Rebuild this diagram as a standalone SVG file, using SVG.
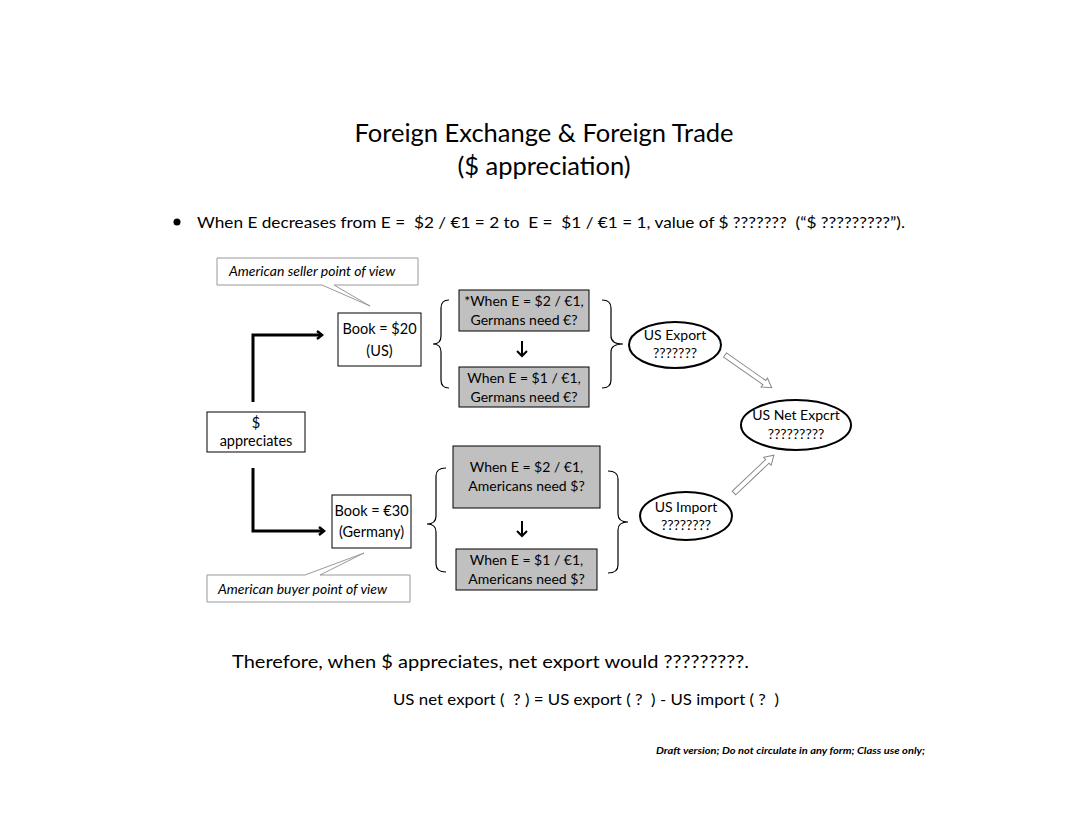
<svg xmlns="http://www.w3.org/2000/svg" width="1086" height="828" viewBox="0 0 1086 828">
<style>
text{font-family:Lato,"Open Sans","DejaVu Sans",sans-serif;fill:#000;white-space:pre}
.t{font-size:25.5px}
.b{font-size:16px}
.n{font-size:14.5px}
.s{font-size:14px}
.it{font-size:14px;font-style:italic}
.box{fill:#fff;stroke:#000;stroke-width:1}
.gray{fill:#c0c0c0;stroke:#000;stroke-width:1}
.call{fill:#fff;stroke:#999;stroke-width:1}
.el{fill:#fff;stroke:#000;stroke-width:2}
.brace{fill:none;stroke:#000;stroke-width:1.2}
.thick{fill:none;stroke:#000;stroke-width:3}
.hollow{fill:#fff;stroke:#888;stroke-width:1}
.down{fill:none;stroke:#000;stroke-width:2}
</style>
<defs>
<marker id="ah" markerWidth="8" markerHeight="10" refX="6" refY="5" orient="auto" markerUnits="userSpaceOnUse">
<path d="M1,1 L6,5 L1,9" fill="none" stroke="#000" stroke-width="2.5"/>
</marker>
</defs>
<rect width="1086" height="828" fill="#fff"/>

<g id="title">
<text class="t" x="544" y="142" text-anchor="middle">Foreign Exchange &amp; Foreign Trade</text>
<text class="t" x="544" y="175" text-anchor="middle">($ appreciation)</text>
</g>

<g id="bullet">
<circle cx="177" cy="222" r="3.5" fill="#000"/>
<text class="b" x="197" y="228" textLength="708" lengthAdjust="spacingAndGlyphs" xml:space="preserve">When E decreases from E =  $2 / €1 = 2 to  E =  $1 / €1 = 1, value of $ ???????  (“$ ?????????”).</text>
</g>

<g id="connectors">
<polyline class="thick" points="253,402 253,335 322,335" marker-end="url(#ah)"/>
<polyline class="thick" points="253,468 253,531 324,531" marker-end="url(#ah)"/>
<path class="down" d="M522,341 L522,356 M517,351 L522,356 L527,351"/>
<path class="down" d="M522,521 L522,536 M517,531 L522,536 L527,531"/>
<path class="brace" d="M449,300 Q441,300 441,308 L441,336 Q441,344 433,344 Q441,344 441,352 L441,380 Q441,388 449,388"/>
<path class="brace" d="M602,300 Q611,300 611,308 L611,336 Q611,344 623,344 Q611,344 611,352 L611,380 Q611,388 602,388"/>
<path class="brace" d="M446,468 Q436,468 436,476 L436,516 Q436,524 427,524 Q436,524 436,532 L436,564 Q436,572 446,572"/>
<path class="brace" d="M608,471 Q618,471 618,479 L618,514 Q618,522 628,522 Q618,522 618,530 L618,565 Q618,573 608,573"/>
<polygon class="hollow" transform="translate(725,355) rotate(35)" points="0,-2.5 48,-2.5 48,-5.5 57,0 48,5.5 48,2.5 0,2.5"/>
<polygon class="hollow" transform="translate(734,493) rotate(-43.5)" points="0,-2.5 46,-2.5 46,-5.5 55,0 46,5.5 46,2.5 0,2.5"/>
</g>

<g id="callout-seller">
<path class="call" d="M217,258 L418,258 L418,285 L334,285 L370,306 L322,285 L217,285 Z"/>
<text class="it" x="229" y="276">American seller point of view</text>
</g>

<g id="book-us">
<rect class="box" x="338" y="313" width="83" height="53"/>
<text class="n" x="379.5" y="334" text-anchor="middle">Book = $20</text>
<text class="n" x="379.5" y="356" text-anchor="middle">(US)</text>
</g>

<g id="appreciates">
<rect class="box" x="207" y="412" width="98" height="40"/>
<text class="n" x="256" y="428" text-anchor="middle">$</text>
<text class="n" x="256" y="446" text-anchor="middle">appreciates</text>
</g>

<g id="book-de">
<rect class="box" x="332" y="495" width="79" height="53"/>
<text class="n" x="371.5" y="516" text-anchor="middle">Book = €30</text>
<text class="n" x="371.5" y="537" text-anchor="middle">(Germany)</text>
</g>

<g id="callout-buyer">
<path class="call" d="M207,575 L305,575 L364,553 L320,575 L410,575 L410,602 L207,602 Z"/>
<text class="it" x="218" y="594">American buyer point of view</text>
</g>

<g id="de-need-2">
<rect class="gray" x="459" y="290" width="130" height="41"/>
<text class="s" x="524" y="306" text-anchor="middle">*When E = $2 / €1,</text>
<text class="s" x="524" y="325" text-anchor="middle">Germans need €?</text>
</g>

<g id="de-need-1">
<rect class="gray" x="459" y="367" width="130" height="40"/>
<text class="s" x="524" y="383" text-anchor="middle">When E = $1 / €1,</text>
<text class="s" x="524" y="402" text-anchor="middle">Germans need €?</text>
</g>

<g id="us-need-2">
<rect class="gray" x="453" y="446" width="147" height="62"/>
<text class="s" x="526.5" y="472" text-anchor="middle">When E = $2 / €1,</text>
<text class="s" x="526.5" y="491" text-anchor="middle">Americans need $?</text>
</g>

<g id="us-need-1">
<rect class="gray" x="456" y="549" width="141" height="41"/>
<text class="s" x="526.5" y="565" text-anchor="middle">When E = $1 / €1,</text>
<text class="s" x="526.5" y="584" text-anchor="middle">Americans need $?</text>
</g>

<g id="us-export">
<ellipse class="el" cx="675" cy="345" rx="46" ry="23"/>
<text class="s" x="675" y="340" text-anchor="middle">US Export</text>
<text class="s" x="675" y="358" text-anchor="middle">???????</text>
</g>

<g id="us-net-export">
<ellipse class="el" cx="796" cy="425" rx="55" ry="25"/>
<text class="s" x="796" y="420" text-anchor="middle">US Net Expcrt</text>
<text class="s" x="796" y="439" text-anchor="middle">?????????</text>
</g>

<g id="us-import">
<ellipse class="el" cx="686" cy="516" rx="46" ry="24"/>
<text class="s" x="686" y="512" text-anchor="middle">US Import</text>
<text class="s" x="686" y="530" text-anchor="middle">????????</text>
</g>

<g id="conclusion">
<text x="232" y="668" font-size="18" textLength="517" lengthAdjust="spacingAndGlyphs">Therefore, when $ appreciates, net export would ?????????.</text>
<text class="b" x="393" y="705" textLength="386" lengthAdjust="spacingAndGlyphs" xml:space="preserve">US net export (  ? ) = US export ( ?  ) - US import ( ?  )</text>
</g>

<g id="footer">
<text x="656" y="754" font-size="10" font-style="italic" font-weight="bold" textLength="269" lengthAdjust="spacingAndGlyphs">Draft version; Do not circulate in any form; Class use only;</text>
</g>
</svg>
